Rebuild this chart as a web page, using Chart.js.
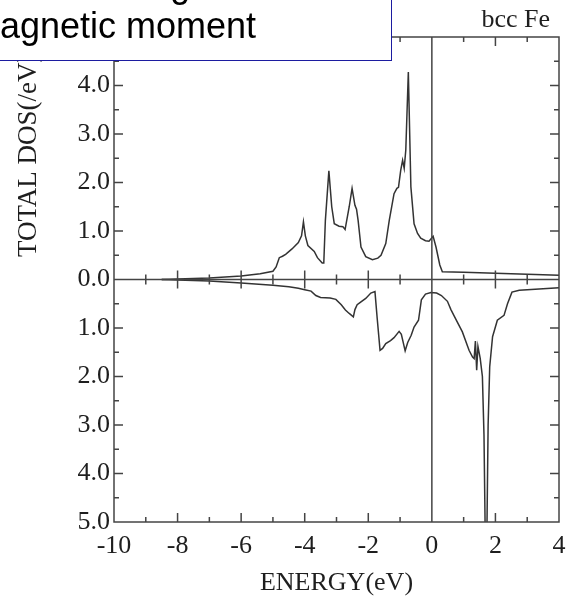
<!DOCTYPE html>
<html>
<head>
<meta charset="utf-8">
<script src="https://cdn.jsdelivr.net/npm/chart.js@4.4.0/dist/chart.umd.min.js"></script>
<style>
  html, body { margin: 0; padding: 0; background: #fff; }
  #wrap { position: relative; width: 577px; height: 597px; overflow: hidden; }
  #note {
    position: absolute; left: -2px; top: -40px; width: 394px; height: 101px;
    box-sizing: border-box; border: 1.5px solid #1c1ca0; background: #fff;
    font-family: "Liberation Sans", Arial, sans-serif; font-size: 36px; color: #000;
  }
  #note span { position: absolute; left: -29px; white-space: nowrap; line-height: 1; }
</style>
</head>
<body>
<div id="wrap">
  <canvas id="dosChart" width="577" height="597"></canvas>
  <div id="note">
    <span style="top: 6px;">Spin-exchange leads to the</span>
    <span style="top: 47px;">magnetic moment</span>
  </div>
</div>
<script>
// spin-up DOS (drawn above zero)
const upEnergy = [-8.5, -8, -7, -6, -5.4, -5.0, -4.9, -4.8, -4.7, -4.6, -4.4, -4.2, -4.1, -4.04, -3.98, -3.9,
  -3.7, -3.6, -3.45, -3.4, -3.35, -3.24, -3.15, -3.07, -2.92, -2.8, -2.73, -2.6, -2.51, -2.42, -2.37, -2.32,
  -2.23, -2.08, -1.87, -1.7, -1.6, -1.45, -1.34, -1.19, -1.1, -1.05, -0.98, -0.92, -0.87, -0.82, -0.74,
  -0.66, -0.56, -0.45, -0.35, -0.2, -0.09, 0.04, 0.13, 0.25, 0.33, 1, 2, 3, 4];
const upDos = [0, 0.01, 0.03, 0.07, 0.12, 0.17, 0.26, 0.45, 0.48, 0.52, 0.63, 0.76, 0.9, 1.19, 0.9, 0.7,
  0.58, 0.45, 0.34, 0.34, 1.22, 2.24, 1.5, 1.15, 1.10, 1.09, 1.03, 1.5, 1.88, 1.53, 1.45, 1.22,
  0.67, 0.47, 0.41, 0.44, 0.5, 0.74, 1.22, 1.77, 1.88, 1.9, 2.25, 2.46, 2.29, 2.67, 4.28,
  1.91, 1.15, 0.95, 0.85, 0.8, 0.79, 0.89, 0.67, 0.3, 0.16, 0.15, 0.13, 0.11, 0.09];

// spin-down DOS (drawn below zero, labelled as positive)
const downEnergy = [-8.5, -8, -7, -6, -5, -4.5, -4.2, -4, -3.8, -3.65, -3.5, -3.2, -3.02, -2.85, -2.72, -2.6,
  -2.47, -2.42, -2.35, -2.23, -2.08, -1.92, -1.79, -1.72, -1.63, -1.55, -1.45, -1.3, -1.19, -1.03, -0.96,
  -0.84, -0.76, -0.65, -0.56, -0.42, -0.33, -0.2, -0.03, 0.15, 0.3, 0.49, 0.6, 0.7, 0.96, 1.17, 1.28,
  1.33, 1.37, 1.41, 1.45, 1.52, 1.59, 1.64, 1.68, 1.73, 1.77, 1.82, 1.91, 2.06, 2.27, 2.38, 2.52, 2.75, 3.5, 4];
const downDos = [0, 0.01, 0.03, 0.07, 0.12, 0.15, 0.18, 0.21, 0.24, 0.33, 0.37, 0.38, 0.41, 0.52, 0.63, 0.7,
  0.77, 0.62, 0.52, 0.46, 0.39, 0.28, 0.25, 0.8, 1.46, 1.42, 1.32, 1.26, 1.2, 1.07, 1.13,
  1.47, 1.3, 1.15, 0.98, 0.84, 0.42, 0.3, 0.27, 0.28, 0.33, 0.45, 0.62, 0.75, 1.08, 1.46, 1.6,
  1.63, 1.27, 1.87, 1.38, 1.62, 2.0, 3.2, 5.3, 5.3, 3.0, 1.8, 1.18, 0.84, 0.74, 0.5, 0.26, 0.22, 0.19, 0.17];

const xMin = -10, xMax = 4, xStep = 2;
const yMin = -5, yMax = 5, yStep = 1;

const serif = "'Liberation Serif', 'Times New Roman', serif";
const ink = "#1e1e1e";
const lineInk = "#333";

// frame, zero lines, inward ticks, side titles
const framePlugin = {
  id: "frame",
  afterDatasetsDraw(chart) {
    const { ctx, chartArea: a, scales: { x, y } } = chart;
    ctx.save();
    ctx.strokeStyle = "#444";
    ctx.lineWidth = 1.5;
    ctx.strokeRect(a.left, a.top, a.right - a.left, a.bottom - a.top);
    const y0 = y.getPixelForValue(0);
    const x0 = x.getPixelForValue(0);
    ctx.beginPath();
    ctx.moveTo(a.left, y0); ctx.lineTo(a.right, y0);
    ctx.moveTo(x0, a.top); ctx.lineTo(x0, a.bottom);
    for (let v = xMin + 1; v < xMax; v++) {
      const px = x.getPixelForValue(v);
      const len = v % 2 === 0 ? 9 : 5;
      ctx.moveTo(px, a.top); ctx.lineTo(px, a.top + len);
      ctx.moveTo(px, a.bottom); ctx.lineTo(px, a.bottom - len);
      if (v !== 0) { ctx.moveTo(px, y0 - len); ctx.lineTo(px, y0 + len); }
    }
    for (let v = yMin + 0.5; v < yMax; v += 0.5) {
      const py = y.getPixelForValue(v);
      const len = Number.isInteger(v) ? 9 : 5;
      ctx.moveTo(a.left, py); ctx.lineTo(a.left + len, py);
      ctx.moveTo(a.right, py); ctx.lineTo(a.right - len, py);
    }
    ctx.stroke();

    ctx.fillStyle = ink;
    ctx.font = "26px " + serif;
    ctx.textAlign = "right";
    ctx.textBaseline = "alphabetic";
    ctx.fillText("bcc Fe", 550, 27);

    ctx.font = "27px " + serif;
    ctx.translate(29, (a.top + y0) / 2 - 3);
    ctx.rotate(-Math.PI / 2);
    ctx.textAlign = "center";
    ctx.textBaseline = "middle";
    ctx.fillText("TOTAL DOS(/eV)", 0, 0);
    ctx.restore();
  }
};

const ctx = document.getElementById("dosChart").getContext("2d");
new Chart(ctx, {
  type: "line",
  data: {
    datasets: [
      {
        label: "spin up",
        data: upEnergy.map((e, i) => ({ x: e, y: upDos[i] })),
        borderColor: lineInk,
        borderWidth: 1.5,
        pointRadius: 0,
        tension: 0,
        clip: 0
      },
      {
        label: "spin down",
        data: downEnergy.map((e, i) => ({ x: e, y: -downDos[i] })),
        borderColor: lineInk,
        borderWidth: 1.5,
        pointRadius: 0,
        tension: 0,
        clip: 0
      }
    ]
  },
  options: {
    responsive: false,
    animation: false,
    layout: { padding: { top: 37, right: 18, left: 0, bottom: 0 } },
    plugins: { legend: { display: false }, tooltip: { enabled: false } },
    scales: {
      x: {
        type: "linear",
        min: xMin,
        max: xMax,
        grid: { display: false, drawTicks: false },
        border: { display: false },
        ticks: { stepSize: xStep, padding: 9, color: ink, font: { family: serif, size: 26 } },
        title: { display: true, text: "ENERGY(eV)", color: ink, padding: { top: 0, bottom: -2 }, font: { family: serif, size: 26 } },
        afterFit(scale) { scale.height = 75; }
      },
      y: {
        min: yMin,
        max: yMax,
        grid: { display: false, drawTicks: false },
        border: { display: false },
        ticks: {
          stepSize: yStep,
          padding: 4,
          color: ink,
          font: { family: serif, size: 26 },
          callback: (v) => Math.abs(v).toFixed(1)
        },
        afterFit(scale) { scale.width = 114; }
      }
    }
  },
  plugins: [framePlugin]
});
</script>
</body>
</html>
